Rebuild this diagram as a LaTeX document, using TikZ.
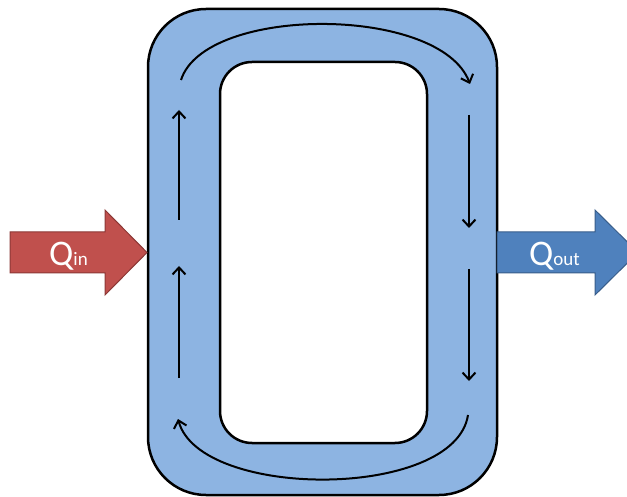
\documentclass[tikz,border=0pt]{standalone}
\usepackage{fontspec}
\setmainfont{Carlito}
\usetikzlibrary{arrows.meta}
\definecolor{loopblue}{RGB}{141,180,226}
\definecolor{heatred}{RGB}{192,80,77}
\definecolor{heatredline}{RGB}{140,56,54}
\definecolor{heatblue}{RGB}{79,129,189}
\definecolor{heatblueline}{RGB}{56,93,138}
\tikzset{
  flow/.style={line width=2pt, -{Straight Barb[length=7pt,width=13pt,line width=2pt]}},
  heatarrow/.style={line width=1pt, line join=miter},
  qlabel/.style={text=white, inner sep=0pt, anchor=base west}
}
\newcommand{\qbig}[1]{{\fontsize{36}{36}\selectfont #1}}
\newcommand{\qsmall}[1]{{\fontsize{19}{19}\selectfont #1}}
\begin{document}
\begin{tikzpicture}[x=1pt,y=-1pt]
  \useasboundingbox (0,0) rectangle (627,497);
  \clip (0,0) rectangle (627,497);

  % loop body
  \draw[fill=loopblue, line width=2.5pt, rounded corners=58pt] (148,9) rectangle (497,495);
  \draw[fill=white, line width=2.5pt, rounded corners=32pt] (220,62) rectangle (427,443);

  % heat in
  \draw[heatarrow, fill=heatred, draw=heatredline]
    (10,232) -- (105,232) -- (105,210) -- (147,252.5) -- (105,295) -- (105,273) -- (10,273) -- cycle;
  \node[qlabel] (qin) at (49,266) {\qbig{Q}\qsmall{in}};

  % heat out
  \draw[heatarrow, fill=heatblue, draw=heatblueline]
    (497,232) -- (595,232) -- (595,210) -- (638,252.5) -- (595,295) -- (595,273) -- (497,273) -- cycle;
  \node[qlabel] (qout) at (529,266) {\qbig{Q}\qsmall{out}};

  % circulation
  \coordinate (l1a) at (179,378); \coordinate (l1b) at (179,266);
  \coordinate (l2a) at (179,220); \coordinate (l2b) at (179,110);
  \coordinate (r1a) at (469,115); \coordinate (r1b) at (469,228);
  \coordinate (r2a) at (469,269); \coordinate (r2b) at (469,381);
  \coordinate (ta) at (181,80);   \coordinate (tb) at (470,84);
  \coordinate (ba) at (468,415);  \coordinate (bb) at (178,419);

  \draw[flow] (l1a) -- (l1b);
  \draw[flow] (l2a) -- (l2b);
  \draw[flow] (r1a) -- (r1b);
  \draw[flow] (r2a) -- (r2b);
  \draw[flow] (ta) .. controls (205,5) and (440,5) .. (tb);
  \draw[flow] (ba) .. controls (455,500) and (200,500) .. (bb);
\end{tikzpicture}
\end{document}
